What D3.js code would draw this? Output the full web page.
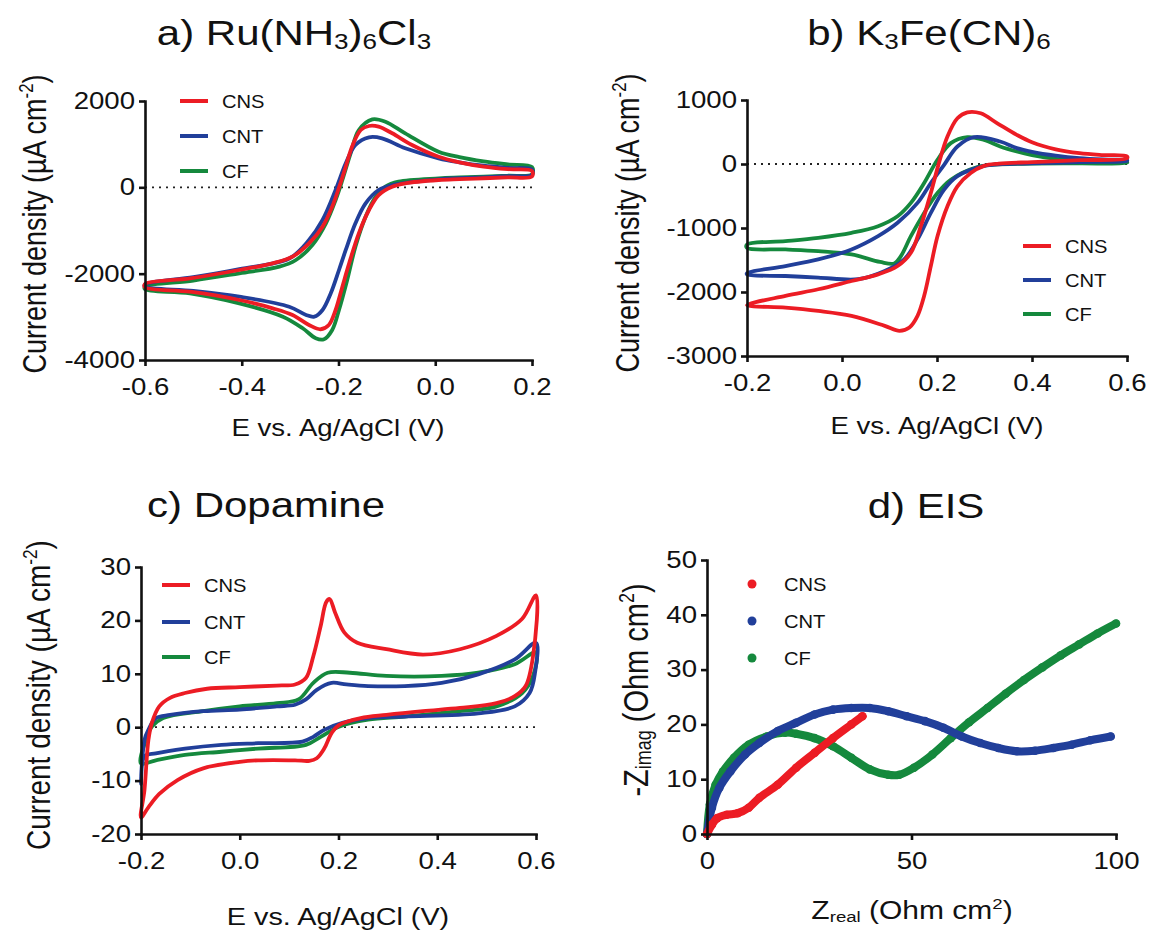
<!DOCTYPE html>
<html>
<head>
<meta charset="utf-8">
<title>CV and EIS of CNS, CNT and CF electrodes</title>
<script src="https://cdn.jsdelivr.net/npm/d3@7/dist/d3.min.js"></script>
<style>
  body { margin: 0; background: #fff; }
  svg text { font-family: "Liberation Sans", Arial, Helvetica, sans-serif; fill: #111; }
</style>
</head>
<body>
<svg id="chart" width="1152" height="935"></svg>
<script>
// series names and colours (same in every panel)
const names = ["CNS", "CNT", "CF"];
const colours = ["#ec1c24", "#213f9a", "#15893d"];

// a) Ru(NH3)6Cl3  [E (V), j (uA cm-2)], scan 0.2 -> -0.6 -> 0.2
const ruCNS = [[0.2,250],[0.15,230],[0.1,210],[0.05,190],[0.007,170],[-0.062,94],[-0.089,15],[-0.117,-178],[-0.137,-525],[-0.158,-1065],[-0.178,-1760],[-0.192,-2301],[-0.206,-2841],[-0.22,-3189],[-0.237,-3288],[-0.261,-3189],[-0.295,-2957],[-0.336,-2803],[-0.405,-2610],[-0.507,-2418],[-0.6,-2316],
  [-0.6,-2239],[-0.507,-2108],[-0.405,-1915],[-0.336,-1760],[-0.295,-1606],[-0.261,-1297],[-0.233,-911],[-0.213,-448],[-0.199,-8],[-0.185,478],[-0.172,941],[-0.154,1328],[-0.137,1421],[-0.117,1405],[-0.089,1252],[-0.048,981],[0.007,710],[0.05,580],[0.1,480],[0.15,420],[0.2,380]];
const ruCNT = [[0.2,290],[0.15,260],[0.1,230],[0.05,210],[0.007,186],[-0.089,54],[-0.117,-62],[-0.144,-370],[-0.165,-833],[-0.185,-1451],[-0.199,-1915],[-0.216,-2455],[-0.233,-2841],[-0.25,-2996],[-0.267,-2957],[-0.302,-2765],[-0.405,-2533],[-0.5,-2400],[-0.6,-2300],
  [-0.6,-2250],[-0.5,-2080],[-0.405,-1892],[-0.302,-1650],[-0.261,-1220],[-0.233,-757],[-0.206,-62],[-0.185,556],[-0.165,981],[-0.137,1159],[-0.11,1136],[-0.062,904],[0.007,673],[0.05,580],[0.1,500],[0.15,450],[0.2,410]];
const ruCF = [[0.2,300],[0.15,270],[0.1,250],[0.05,230],[0.007,209],[-0.076,131],[-0.103,15],[-0.123,-216],[-0.144,-680],[-0.165,-1375],[-0.182,-2146],[-0.199,-2841],[-0.213,-3305],[-0.23,-3520],[-0.247,-3497],[-0.274,-3265],[-0.315,-2996],[-0.405,-2687],[-0.507,-2455],[-0.6,-2362],
  [-0.6,-2301],[-0.5,-2160],[-0.405,-1992],[-0.322,-1838],[-0.288,-1683],[-0.254,-1336],[-0.226,-833],[-0.206,-293],[-0.192,170],[-0.175,788],[-0.158,1328],[-0.13,1576],[-0.103,1521],[-0.062,1252],[0.007,826],[0.05,700],[0.1,600],[0.15,530],[0.2,470]];

// b) K3Fe(CN)6, scan 0.6 -> -0.2 -> 0.6
const feCNS = [[0.6,90],[0.5,60],[0.4,30],[0.33,5],[0.299,-30],[0.271,-140],[0.243,-348],[0.222,-659],[0.201,-1128],[0.187,-1594],[0.173,-2060],[0.159,-2374],[0.142,-2555],[0.121,-2607],[0.09,-2529],[0.02,-2374],[-0.05,-2296],[-0.119,-2244],[-0.2,-2206],
  [-0.119,-2060],[-0.05,-1957],[0.02,-1828],[0.076,-1724],[0.117,-1594],[0.145,-1387],[0.166,-972],[0.187,-453],[0.204,14],[0.222,429],[0.243,714],[0.264,807],[0.292,792],[0.327,636],[0.368,455],[0.4,340],[0.45,230],[0.5,170],[0.55,140],[0.6,120]];
const feCNT = [[0.6,50],[0.5,30],[0.4,10],[0.33,-5],[0.299,-30],[0.243,-190],[0.215,-400],[0.187,-763],[0.159,-1178],[0.131,-1490],[0.09,-1672],[0.034,-1800],[-0.05,-1774],[-0.119,-1750],[-0.2,-1725],
  [-0.2,-1705],[-0.119,-1594],[-0.05,-1490],[0.02,-1335],[0.076,-1127],[0.117,-919],[0.159,-608],[0.187,-297],[0.215,-12],[0.243,273],[0.278,419],[0.333,352],[0.368,248],[0.4,190],[0.45,130],[0.5,90],[0.55,70],[0.6,60]];
const feCF = [[0.6,20],[0.5,10],[0.4,5],[0.32,-10],[0.285,-48],[0.229,-245],[0.201,-453],[0.173,-764],[0.145,-1128],[0.124,-1440],[0.11,-1555],[0.08,-1530],[0.02,-1412],[-0.05,-1362],[-0.119,-1335],[-0.2,-1310],
  [-0.2,-1257],[-0.119,-1205],[-0.05,-1153],[0.02,-1075],[0.076,-972],[0.117,-817],[0.145,-608],[0.173,-297],[0.201,66],[0.229,326],[0.264,420],[0.299,377],[0.333,273],[0.368,195],[0.4,140],[0.45,80],[0.5,50],[0.6,30]];

// c) Dopamine, scan -0.2 -> 0.6 -> -0.2
const daCNS = [[-0.2,-16.9],[-0.193,-11.8],[-0.185,-2.4],[-0.178,0.8],[-0.163,3.9],[-0.141,5.5],[-0.111,6.4],[-0.066,7.2],[0,7.5],[0.075,7.8],[0.112,8.0],[0.134,9.2],[0.149,13.3],[0.164,19.0],[0.175,23.4],[0.182,24.0],[0.193,21.5],[0.212,17.7],[0.238,15.8],[0.297,14.6],[0.371,13.6],[0.446,14.6],[0.52,17.1],[0.572,20.3],[0.6,24.7],
  [0.594,13.3],[0.579,7.7],[0.557,5.8],[0.52,4.5],[0.446,3.6],[0.371,3.0],[0.297,2.3],[0.245,1.7],[0.201,0.4],[0.186,-1.1],[0.171,-4.0],[0.156,-5.8],[0.141,-6.3],[0.112,-6.2],[0.037,-6.2],[0,-6.5],[-0.074,-7.7],[-0.126,-9.9],[-0.163,-12.5],[-0.185,-15.0]];
const daCNT = [[-0.2,-10.6],[-0.193,-2.4],[-0.185,-0.5],[-0.17,1.7],[-0.141,2.3],[-0.074,3.0],[0,3.3],[0.075,3.9],[0.112,4.2],[0.134,5.2],[0.156,7.0],[0.186,8.3],[0.216,8.0],[0.26,7.7],[0.334,7.7],[0.409,8.3],[0.483,9.9],[0.557,12.7],[0.6,15.8],
  [0.598,10.2],[0.587,6.4],[0.557,3.9],[0.483,2.6],[0.334,2.0],[0.26,1.7],[0.208,0.8],[0.171,-0.5],[0.149,-1.8],[0.127,-2.7],[0.037,-3.0],[-0.037,-3.3],[-0.111,-4.0],[-0.17,-4.9],[-0.193,-5.5]];
const daCF = [[-0.2,-6.8],[-0.19,-2.4],[-0.178,0.1],[-0.155,1.7],[-0.074,3.0],[0,3.9],[0.075,4.5],[0.119,5.2],[0.149,8.3],[0.178,10.2],[0.223,10.2],[0.297,9.6],[0.409,9.6],[0.483,10.2],[0.557,11.8],[0.6,14.0],
  [0.594,9.6],[0.572,6.4],[0.52,3.9],[0.446,3.0],[0.334,2.0],[0.26,1.4],[0.201,0.1],[0.164,-1.8],[0.134,-3.3],[0.037,-4.0],[-0.037,-4.6],[-0.111,-5.2],[-0.17,-6.2]];

// d) EIS Nyquist [Zreal, -Zimag] (Ohm cm2)
const eisCNS = [[0,0],[1.2,1.7],[2.5,2.9],[4.8,3.5],[7.5,3.8],[10.2,4.8],[12.8,6.6],[17.3,9.0],[21.8,12.1],[26.3,14.8],[30.8,17.5],[35.3,20.0],[38.0,21.5]];
const eisCNT = [[0,0],[1.2,4.8],[3.0,8.4],[5.7,11.4],[9.3,14.5],[12.8,16.6],[17.3,18.8],[21.8,20.3],[26.3,21.8],[30.8,22.7],[35.3,23.0],[39.8,23.0],[44.3,22.4],[48.8,21.5],[53.3,20.6],[57.8,19.4],[62.3,17.8],[66.8,16.6],[71.2,15.7],[75.7,15.1],[80.2,15.2],[84.7,15.7],[89.2,16.3],[93.7,17.1],[98.7,17.8]];
const eisCF = [[0,0],[0.7,5.4],[2.1,9.0],[3.9,11.4],[6.6,13.9],[10.2,16.3],[14.6,17.8],[19.1,18.5],[21.8,18.3],[26.3,17.5],[30.8,16.0],[35.3,13.9],[39.8,11.8],[44.3,10.8],[47.0,10.8],[50.6,12.1],[55.1,14.5],[59.6,17.5],[64.1,20.4],[68.6,23.0],[73.0,25.6],[77.5,28.1],[82.0,30.4],[86.5,32.6],[91.0,34.6],[95.5,36.6],[100,38.4]];

// tick values
const aXTicks = [-0.6, -0.4, -0.2, 0.0, 0.2];
const aYTicks = [-4000, -2000, 0, 2000];
const bXTicks = [-0.2, 0.0, 0.2, 0.4, 0.6];
const bYTicks = [-3000, -2000, -1000, 0, 1000];
const cXTicks = [-0.2, 0.0, 0.2, 0.4, 0.6];
const cYTicks = [-20, -10, 0, 10, 20, 30];
const dXTicks = [0, 50, 100];
const dYTicks = [0, 10, 20, 30, 40, 50];

const SX = 1.2; // the figure is a bit wider than tall, text too
const svg = d3.select("#chart");

// text with sub/superscript parts: [[string, ""|"sub"|"sup"], ...]
function rich(sel, parts, fs) {
  let shift = 0;
  parts.forEach(([t, m]) => {
    const target = m === "sub" ? fs * 0.1 : m === "sup" ? -fs * 0.4 : 0;
    sel.append("tspan")
      .attr("dy", target - shift)
      .attr("font-size", m ? fs * 0.62 : fs)
      .text(t);
    shift = target;
  });
}

function label(x, y, parts, fs, rotate, anchor) {
  const t = svg.append("text")
    .attr("transform", `translate(${x},${y}) scale(${SX},1)` + (rotate ? " rotate(-90)" : ""))
    .attr("text-anchor", anchor || "middle")
    .attr("font-size", fs);
  rich(t, parts, fs);
}

const fmt1 = d => d.toFixed(1);
const fmt0 = d => String(d);
const yLabCV = [["Current density (µA cm", ""], ["-2", "sup"], [")", ""]];
const xLabCV = [["E vs. Ag/AgCl (V)", ""]];

const panels = [
  { left: 145, right: 532, top: 101, bottom: 360, xDom: [-0.6, 0.2], yDom: [-4000, 2000],
    xTicks: aXTicks, yTicks: aYTicks, xFmt: fmt1, yFmt: fmt0, data: [ruCNS, ruCNT, ruCF], kind: "line",
    title: [["a) Ru(NH", ""], ["3", "sub"], [")", ""], ["6", "sub"], ["Cl", ""], ["3", "sub"]], tx: 294, ty: 45,
    yLab: yLabCV, ylx: 46, yly: 224, ylf: 27, xLab: xLabCV, xlx: 338, xly: 436, xlf: 23,
    legX: 180, legY: [101, 136, 171] },
  { left: 747, right: 1127, top: 100, bottom: 356, xDom: [-0.2, 0.6], yDom: [-3000, 1000],
    xTicks: bXTicks, yTicks: bYTicks, xFmt: fmt1, yFmt: fmt0, data: [feCNS, feCNT, feCF], kind: "line",
    title: [["b) K", ""], ["3", "sub"], ["Fe(CN)", ""], ["6", "sub"]], tx: 929, ty: 45,
    yLab: yLabCV, ylx: 639, yly: 223, ylf: 27, xLab: xLabCV, xlx: 937, xly: 434, xlf: 23,
    legX: 1023, legY: [246, 280, 314] },
  { left: 141, right: 536, top: 567, bottom: 834, xDom: [-0.2, 0.6], yDom: [-20, 30],
    xTicks: cXTicks, yTicks: cYTicks, xFmt: fmt1, yFmt: fmt0, data: [daCNS, daCNT, daCF], kind: "line",
    title: [["c) Dopamine", ""]], tx: 266, ty: 517,
    yLab: yLabCV, ylx: 50, yly: 695, ylf: 28, xLab: xLabCV, xlx: 338, xly: 925, xlf: 24,
    legX: 162, legY: [585, 622, 657] },
  { left: 707, right: 1116, top: 560, bottom: 834, xDom: [0, 100], yDom: [0, 50],
    xTicks: dXTicks, yTicks: dYTicks, xFmt: fmt0, yFmt: fmt0, data: [eisCNS, eisCNT, eisCF], kind: "dot",
    title: [["d) EIS", ""]], tx: 926, ty: 518,
    yLab: [["-Z", ""], ["imag", "sub"], [" (Ohm cm", ""], ["2", "sup"], [")", ""]], ylx: 648, yly: 690, ylf: 29,
    xLab: [["Z", ""], ["real", "sub"], [" (Ohm cm", ""], ["2", "sup"], [")", ""]], xlx: 912, xly: 919, xlf: 25,
    legX: 752, legY: [584, 621, 658] }
];

panels.forEach(p => {
  const x = d3.scaleLinear().domain(p.xDom).range([p.left, p.right]);
  const y = d3.scaleLinear().domain(p.yDom).range([p.bottom, p.top]);
  const g = svg.append("g");

  // dotted zero line
  if (p.kind === "line") {
    g.append("line")
      .attr("x1", x(p.xDom[0])).attr("x2", x(p.xDom[1]))
      .attr("y1", y(0)).attr("y2", y(0))
      .attr("stroke", "#222").attr("stroke-width", 1.8)
      .attr("stroke-dasharray", "2,5");
  }

  // curves, drawn CF first so CNS is on top
  const order = [2, 1, 0];
  if (p.kind === "line") {
    const line = d3.line().x(d => x(d[0])).y(d => y(d[1])).curve(d3.curveCatmullRomClosed.alpha(0.5));
    order.forEach(i => {
      g.append("path").attr("d", line(p.data[i]))
        .attr("fill", "none").attr("stroke", colours[i])
        .attr("stroke-width", 3.8).attr("stroke-linejoin", "round");
    });
  } else {
    const line = d3.line().x(d => x(d[0])).y(d => y(d[1])).curve(d3.curveCatmullRom.alpha(0.5));
    order.forEach(i => {
      g.append("path").attr("d", line(p.data[i]))
        .attr("fill", "none").attr("stroke", colours[i])
        .attr("stroke-width", 8).attr("stroke-linecap", "round").attr("stroke-linejoin", "round");
      g.append("g").selectAll("circle").data(p.data[i]).join("circle")
        .attr("cx", d => x(d[0])).attr("cy", d => y(d[1])).attr("r", 4.3)
        .attr("fill", colours[i]);
    });
  }

  // axes
  const ax = g.append("g").attr("transform", `translate(0,${p.bottom})`)
    .call(d3.axisBottom(x).tickValues(p.xTicks).tickFormat(p.xFmt).tickSize(6).tickSizeOuter(0).tickPadding(13));
  const ay = g.append("g").attr("transform", `translate(${p.left},0)`)
    .call(d3.axisLeft(y).tickValues(p.yTicks).tickFormat(p.yFmt).tickSize(6).tickSizeOuter(0));
  [ax, ay].forEach(a => {
    a.select(".domain").attr("stroke", "#111").attr("stroke-width", 2.6).attr("stroke-linecap", "square");
    a.selectAll(".tick line").attr("stroke", "#111").attr("stroke-width", 2.6);
    a.selectAll(".tick text").attr("font-family", null).attr("font-size", 23).attr("fill", "#111")
      .attr("transform", `scale(${SX},1)`);
  });
  ay.selectAll(".tick text").attr("x", -10 / SX);

  // legend
  names.forEach((n, i) => {
    if (p.kind === "line") {
      g.append("line").attr("x1", p.legX).attr("x2", p.legX + 28)
        .attr("y1", p.legY[i]).attr("y2", p.legY[i])
        .attr("stroke", colours[i]).attr("stroke-width", 4);
    } else {
      g.append("circle").attr("cx", p.legX).attr("cy", p.legY[i]).attr("r", 4.5).attr("fill", colours[i]);
    }
    g.append("text")
      .attr("transform", `translate(${p.kind === "line" ? p.legX + 42 : p.legX + 32},${p.legY[i] + 6.5}) scale(1.12,1)`)
      .attr("font-size", 18).text(n);
  });

  // titles and axis labels
  label(p.tx, p.ty, p.title, 35, false);
  label(p.ylx, p.yly, p.yLab, p.ylf, true);
  label(p.xlx, p.xly, p.xLab, p.xlf, false);
});
</script>
</body>
</html>
